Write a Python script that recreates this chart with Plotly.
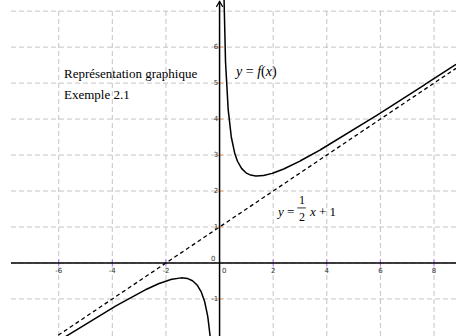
import numpy as np
import plotly.graph_objects as go

# f(x) = a*x + b + c/x, with oblique asymptote y = a*x + b
slope = 0.5
intercept = 1.0
hyper_coef = 1.0

x_range = [-8.19, 8.82]
y_range = [-2.03, 7.31]
grid_left = -7.78
grid_top = 7.0

x_ticks = [-6, -4, -2, 2, 4, 6, 8]
x_tick_labels = ["-6", "-4", "-2", "2", "4", "6", "8"]
y_ticks = [-1, 1, 2, 3, 4, 5, 6]
y_tick_labels = ["-1", "1", "2", "3", "4", "5", "6"]
x_grid = [-6, -4, -2, 0, 2, 4, 6, 8]
y_grid = [-1, 0, 1, 2, 3, 4, 5, 6, 7]


def f(x):
    return slope * x + intercept + hyper_coef / x


xl = np.linspace(x_range[0], -0.3, 600)
xr = np.concatenate([np.linspace(0.14, 1.0, 400), np.linspace(1.0, x_range[1], 400)])

fig = go.Figure()

grid_style = dict(color="#c4c4c4", width=1, dash="5px,3px")
shapes = []
for gy in y_grid:
    shapes.append(dict(type="line", xref="x", yref="y", x0=grid_left, x1=x_range[1],
                       y0=gy, y1=gy, line=grid_style, layer="below"))
for gx in x_grid:
    shapes.append(dict(type="line", xref="x", yref="y", x0=gx, x1=gx,
                       y0=y_range[0], y1=grid_top, line=grid_style, layer="below"))

# axes
axis_style = dict(color="black", width=1.5)
shapes.append(dict(type="line", xref="x", yref="y", x0=grid_left, x1=x_range[1],
                   y0=0, y1=0, line=axis_style))
shapes.append(dict(type="line", xref="x", yref="y", x0=0, x1=0,
                   y0=y_range[0], y1=y_range[1] - 0.04, line=axis_style))
# arrow head on the vertical axis
shapes.append(dict(type="path", xref="x", yref="y",
                   path="M -0.12 7.12 L 0 7.27 L 0.12 7.12",
                   line=dict(color="black", width=1.2)))

# asymptote
xa = np.array(x_range)
fig.add_trace(go.Scatter(x=xa, y=slope * xa + intercept, mode="lines",
                         line=dict(color="black", width=1.3, dash="4px,3px"),
                         hoverinfo="skip"))
# two branches of f
fig.add_trace(go.Scatter(x=xl, y=f(xl), mode="lines",
                         line=dict(color="black", width=1.5), hoverinfo="skip"))
fig.add_trace(go.Scatter(x=xr, y=f(xr), mode="lines",
                         line=dict(color="black", width=1.5), hoverinfo="skip"))

# tick marks
fig.add_trace(go.Scatter(x=x_ticks, y=[0] * len(x_ticks), mode="markers",
                         marker=dict(symbol="line-ns-open", size=5,
                                     line=dict(color="black", width=1)),
                         hoverinfo="skip"))
fig.add_trace(go.Scatter(x=[0] * len(y_ticks), y=y_ticks, mode="markers",
                         marker=dict(symbol="line-ew-open", size=5,
                                     line=dict(color="black", width=1)),
                         hoverinfo="skip"))

tick_font = dict(family="DejaVu Sans", size=7, color="#333333")
fig.add_trace(go.Scatter(x=x_ticks, y=[-0.22] * len(x_ticks), mode="text",
                         text=x_tick_labels, textposition="middle center",
                         textfont=tick_font, hoverinfo="skip"))
fig.add_trace(go.Scatter(x=[-0.05] * len(y_ticks), y=y_ticks, mode="text",
                         text=y_tick_labels, textposition="middle left",
                         textfont=tick_font, hoverinfo="skip"))

serif = "Liberation Serif"
text_font = dict(family=serif, size=13, color="black")
frac_font = dict(family=serif, size=12, color="black")
ann = []
ann.append(dict(x=-0.25, y=0.12, text="0", showarrow=False, xanchor="center",
                yanchor="middle", font=tick_font))
ann.append(dict(x=0.17, y=-0.22, text="0", showarrow=False, xanchor="center",
                yanchor="middle", font=tick_font))
ann.append(dict(x=-5.88, y=5.28, text="Représentation graphique", showarrow=False,
                xanchor="left", yanchor="middle", font=text_font))
ann.append(dict(x=-5.88, y=4.67, text="Exemple 2.1", showarrow=False,
                xanchor="left", yanchor="middle", font=text_font))
ann.append(dict(x=0.45, y=5.31, text="<i>y</i> = <i>f</i>(<i>x</i>)", showarrow=False,
                xanchor="left", yanchor="middle", font=dict(family=serif, size=14, color="black")))
# y = 1/2 x + 1
ann.append(dict(x=2.02, y=1.44, text="<i>y</i> =", showarrow=False,
                xanchor="left", yanchor="middle", font=text_font))
ann.append(dict(x=3.06, y=1.76, text="1", showarrow=False,
                xanchor="center", yanchor="middle", font=frac_font))
ann.append(dict(x=3.06, y=1.29, text="2", showarrow=False,
                xanchor="center", yanchor="middle", font=frac_font))
ann.append(dict(x=3.28, y=1.44, text="<i>x</i> + 1", showarrow=False,
                xanchor="left", yanchor="middle", font=text_font))
shapes.append(dict(type="line", xref="x", yref="y", x0=2.9, x1=3.22,
                   y0=1.53, y1=1.53, line=dict(color="black", width=0.8)))

fig.update_layout(
    width=456, height=336,
    margin=dict(l=0, r=0, t=0, b=0),
    paper_bgcolor="white", plot_bgcolor="white",
    showlegend=False,
    xaxis=dict(range=x_range, visible=False, fixedrange=True),
    yaxis=dict(range=y_range, visible=False, fixedrange=True),
    shapes=shapes, annotations=ann,
)

fig.write_html("out.html")
